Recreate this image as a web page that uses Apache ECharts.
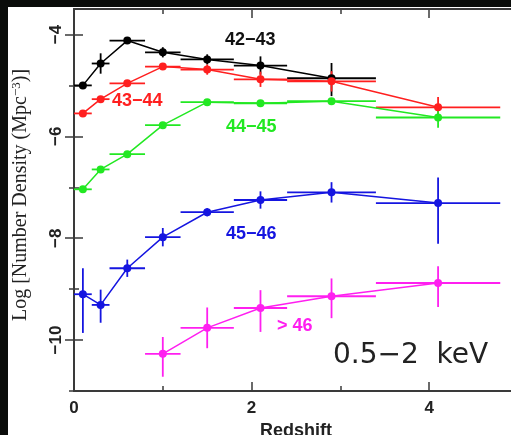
<!DOCTYPE html>
<html>
<head>
<meta charset="utf-8">
<script src="https://cdn.jsdelivr.net/npm/echarts@6/dist/echarts.min.js"></script>
<style>
    html, body { margin: 0; padding: 0; background: #0a0c0a; }
    #chart { width: 511px; height: 435px; }
</style>
</head>
<body>
<div id="chart"></div>
<script>
// redshift bins (centre, low edge, high edge)
const zMid = [0.1, 0.3, 0.6, 1.0, 1.5, 2.1, 2.9, 4.1];
const zLow = [0.0, 0.2, 0.4, 0.8, 1.2, 1.8, 2.4, 3.4];
const zHigh = [0.2, 0.4, 0.8, 1.2, 1.8, 2.4, 3.4, 4.8];

// log number density per luminosity class
const lum4243 = [-5.00, -4.57, -4.12, -4.35, -4.49, -4.61, -4.86];
const lum4243Up = [0.03, 0.20, 0.05, 0.10, 0.10, 0.18, 0.30];
const lum4243Dn = [0.03, 0.20, 0.05, 0.10, 0.10, 0.18, 0.35];

const lum4344 = [-5.55, -5.27, -4.96, -4.63, -4.69, -4.88, -4.92, -5.43];
const lum4344Err = [0.03, 0.05, 0.05, 0.05, 0.10, 0.15, 0.20, 0.20];

const lum4445 = [-7.04, -6.65, -6.35, -5.78, -5.33, -5.35, -5.31, -5.63];
const lum4445Err = [0.03, 0.05, 0.05, 0.05, 0.05, 0.05, 0.05, 0.20];

const lum4546 = [-9.10, -9.31, -8.59, -7.98, -7.49, -7.25, -7.10, -7.31];
const lum4546Up = [0.51, 0.30, 0.17, 0.18, 0.08, 0.17, 0.20, 0.50];
const lum4546Dn = [0.76, 0.35, 0.17, 0.18, 0.08, 0.17, 0.20, 0.80];

// > 46 only from z = 1
const lum46Start = 3;
const lum46 = [-10.27, -9.76, -9.37, -9.14, -8.88];
const lum46Up = [0.33, 0.40, 0.35, 0.35, 0.33];
const lum46Dn = [0.45, 0.40, 0.47, 0.43, 0.47];

const xMajor = [0, 2, 4];
const xMinor = [1, 3];
const yMajor = [-10, -8, -6, -4];
const yMinor = [-11, -9, -7, -5];

const groups = [
    { name: '42−43', color: '#000000', vals: lum4243, up: lum4243Up, dn: lum4243Dn, start: 0 },
    { name: '43−44', color: '#ff1f1f', vals: lum4344, up: lum4344Err, dn: lum4344Err, start: 0 },
    { name: '44−45', color: '#22e822', vals: lum4445, up: lum4445Err, dn: lum4445Err, start: 0 },
    { name: '45−46', color: '#1515e0', vals: lum4546, up: lum4546Up, dn: lum4546Dn, start: 0 },
    { name: '> 46', color: '#ff1ff0', vals: lum46, up: lum46Up, dn: lum46Dn, start: lum46Start }
];

const minus = v => String(v).replace('-', '\u2212');

let series = [];
groups.forEach(g => {
    const pts = g.vals.map((v, i) => [zMid[g.start + i], v]);
    const bars = g.vals.map((v, i) => {
        const k = g.start + i;
        return [zMid[k], zLow[k], zHigh[k], v, v - g.dn[i], v + g.up[i]];
    });
    series.push({
        name: g.name + ' err',
        type: 'custom',
        data: bars,
        silent: true,
        z: 2,
        renderItem: (params, api) => {
            const c = api.coord([api.value(0), api.value(3)]);
            const l = api.coord([api.value(1), api.value(3)]);
            const r = api.coord([api.value(2), api.value(3)]);
            const lo = api.coord([api.value(0), api.value(4)]);
            const hi = api.coord([api.value(0), api.value(5)]);
            const style = { stroke: g.color, lineWidth: 1.8 };
            return {
                type: 'group',
                children: [
                    { type: 'line', shape: { x1: l[0], y1: c[1], x2: r[0], y2: c[1] }, style },
                    { type: 'line', shape: { x1: c[0], y1: lo[1], x2: c[0], y2: hi[1] }, style }
                ]
            };
        }
    });
    series.push({
        name: g.name,
        type: 'line',
        data: pts,
        z: 3,
        symbol: 'circle',
        symbolSize: 8,
        itemStyle: { color: g.color },
        lineStyle: { color: g.color, width: 1.5 }
    });
});

const axisColor = '#3a3a3a';
const axisLine = { show: true, lineStyle: { color: axisColor, width: 2 } };
const tickFont = { color: '#222', fontFamily: 'Liberation Sans', fontWeight: 'bold', fontSize: 17 };

function xAxis(pos, ticks, len, withLine, withLabel) {
    let ax = {
        type: 'value', position: pos, min: 0, max: 5,
        axisLine: withLine ? axisLine : { show: false },
        axisTick: { show: true, inside: true, length: len, customValues: ticks, lineStyle: { color: axisColor, width: 1.5 } },
        axisLabel: withLabel
            ? Object.assign({ show: true, margin: 9, customValues: ticks }, tickFont)
            : { show: false },
        splitLine: { show: false }
    };
    if (withLabel) {
        ax.name = 'Redshift';
        ax.nameLocation = 'middle';
        ax.nameGap = 30;
        ax.nameTextStyle = { color: '#222', fontFamily: 'Liberation Sans', fontWeight: 'bold', fontSize: 18 };
    }
    return ax;
}

function yAxis(pos, ticks, len, withLine, withLabel) {
    return {
        type: 'value', position: pos, min: -11, max: -3.5,
        axisLine: withLine ? axisLine : { show: false },
        axisTick: { show: true, inside: true, length: len, customValues: ticks, lineStyle: { color: axisColor, width: 1.5 } },
        axisLabel: withLabel
            ? Object.assign({ show: true, rotate: 90, margin: 9, customValues: ticks, formatter: minus }, tickFont)
            : { show: false },
        splitLine: { show: false }
    };
}

const txt = (x, y, text, color, size, family, weight) => ({
    type: 'text', x: x, y: y, z: 10,
    style: { text: text, fill: color, fontSize: size, fontFamily: family, fontWeight: weight || 'bold', textVerticalAlign: 'middle' }
});

let option = {
    backgroundColor: '#ffffff',
    animation: false,
    grid: { left: 74, top: 9, right: -7, bottom: 44, outerBoundsMode: 'none', containLabel: false },
    xAxis: [
        xAxis('bottom', xMajor, 9, true, true),
        xAxis('top', xMajor, 9, true, false),
        xAxis('bottom', xMinor, 5, false, false),
        xAxis('top', xMinor, 5, false, false)
    ],
    yAxis: [
        yAxis('left', yMajor, 9, true, true),
        yAxis('right', yMajor, 9, true, false),
        yAxis('left', yMinor, 5, false, false),
        yAxis('right', yMinor, 5, false, false)
    ],
    graphic: [
        // dark frame of the slide
        { type: 'rect', shape: { x: 0, y: 0, width: 511, height: 7 }, style: { fill: '#0a0c0a' }, z: 20 },
        { type: 'rect', shape: { x: 0, y: 0, width: 8, height: 435 }, style: { fill: '#0a0c0a' }, z: 20 },
        {
            type: 'text', x: 21, y: 195, rotation: Math.PI / 2, z: 10,
            style: {
                text: 'Log [Number Density (Mpc{sup|−3})]',
                fill: '#222', fontSize: 20, fontFamily: 'Liberation Serif',
                textAlign: 'center', textVerticalAlign: 'middle',
                rich: { sup: { fontSize: 13, verticalAlign: 'top', padding: [0, 0, 8, 0], fontFamily: 'Liberation Serif', fill: '#222' } }
            }
        },
        txt(225, 40, '42−43', '#111', 18, 'Liberation Sans'),
        txt(112, 101, '43−44', '#ff1f1f', 18, 'Liberation Sans'),
        txt(226, 127, '44−45', '#22e822', 18, 'Liberation Sans'),
        txt(226, 234, '45−46', '#1515e0', 18, 'Liberation Sans'),
        txt(277, 326, '> 46', '#ff1ff0', 18, 'Liberation Sans'),
        txt(333, 356, '0.5−2  keV', '#222', 28, 'DejaVu Sans', 'normal')
    ],
    series
};

let myChart = echarts.init(document.getElementById('chart'));
myChart.setOption(option, true);
window.addEventListener('resize', () => {
    myChart.resize();
});
</script>
</body>
</html>
